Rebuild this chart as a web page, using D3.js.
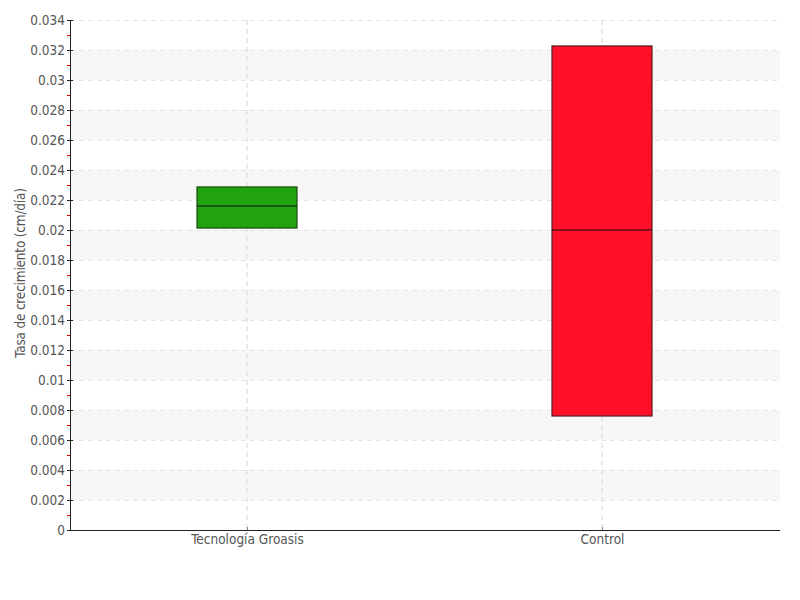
<!DOCTYPE html>
<html><head><meta charset="utf-8">
<script src="https://cdn.jsdelivr.net/npm/d3@7"></script>
<style>
body{margin:0;background:#fff;}
text{font-family:"DejaVu Sans Condensed","Liberation Sans Narrow",sans-serif;fill:#555;}
</style></head>
<body><svg id="c" width="800" height="600"></svg>
<script>
const categories = ["Tecnología Groasis", "Control"];
const q1 = [0.02013, 0.0076];
const median = [0.0216, 0.0200];
const q3 = [0.02287, 0.03227];
const fills = ["#21a30f", "#ff0f28"];
const strokes = ["#1d4a14", "#5a1a1f"];
const yTicks = d3.range(0, 18).map(i => +(i * 0.002).toFixed(3));

const svg = d3.select("#c");
const m = {l: 70, r: 20, t: 20, b: 70};
const W = 800, H = 600;
const x = d3.scaleBand().domain(categories).range([m.l, W - m.r]);
const y = d3.scaleLinear().domain([0, 0.034]).range([H - m.b, m.t]);

// bands
const g = svg.append("g");
for (let i = 1; i < yTicks.length - 1; i += 2) {
  g.append("rect").attr("x", m.l).attr("width", W - m.r - m.l)
   .attr("y", y(yTicks[i + 1])).attr("height", y(yTicks[i]) - y(yTicks[i + 1]))
   .attr("fill", "#f7f7f7");
}
// horizontal grid
g.selectAll("line.h").data(yTicks.filter(d => d > 0)).join("line")
 .attr("x1", m.l).attr("x2", W - m.r)
 .attr("y1", d => y(d) + 0.5).attr("y2", d => y(d) + 0.5)
 .attr("stroke", "#e4e4e4").attr("stroke-dasharray", "5,4");
// vertical grid
g.selectAll("line.v").data(categories).join("line")
 .attr("x1", d => x(d) + x.bandwidth() / 2 - 0.5).attr("x2", d => x(d) + x.bandwidth() / 2 - 0.5)
 .attr("y1", m.t).attr("y2", H - m.b)
 .attr("stroke", "#e4e4e4").attr("stroke-dasharray", "5,4").attr("stroke-width", 1.5);

// boxes
const bw = 100;
categories.forEach((c, i) => {
  const cx = x(c) + x.bandwidth() / 2 - 0.5;
  svg.append("rect").attr("x", cx - bw / 2).attr("width", bw)
   .attr("y", y(q3[i])).attr("height", y(q1[i]) - y(q3[i]))
   .attr("fill", fills[i]).attr("stroke", strokes[i]).attr("stroke-width", 1.2);
  svg.append("line").attr("x1", cx - bw / 2).attr("x2", cx + bw / 2)
   .attr("y1", y(median[i])).attr("y2", y(median[i]))
   .attr("stroke", "#111").attr("stroke-width", 1);
});

// y axis minor ticks
svg.append("g").selectAll("line").data(d3.range(0, 17).map(i => (i + 0.5) * 0.002))
 .join("line").attr("x1", m.l - 3).attr("x2", m.l).attr("y1", d => y(d) + 0.5).attr("y2", d => y(d) + 0.5)
 .attr("stroke", "#e00000");
// y axis
const ya = svg.append("g").attr("transform", `translate(${m.l},0)`)
 .call(d3.axisLeft(y).tickValues(yTicks).tickSize(4).tickFormat(d => d === 0 ? "0" : String(+d.toFixed(3))));
ya.select(".domain").attr("stroke", "#222").attr("d", `M0.5,${m.t}V${H - m.b}`);
ya.selectAll(".tick line").attr("stroke", "#222").attr("x2", 3).attr("x1", -3);
ya.selectAll(".tick text").attr("x", -5).attr("font-size", 13.5).attr("fill", "#555");
// x axis
const xa = svg.append("g").attr("transform", `translate(0,${H - m.b})`)
 .call(d3.axisBottom(x).tickSize(0));
xa.select(".domain").attr("stroke", "#222").attr("d", `M${m.l},0.5H${W - m.r}`);
xa.selectAll(".tick line").attr("y2", -3).attr("stroke", "#888");
xa.selectAll(".tick text").attr("dy", "0.85em").attr("y", 3).attr("font-size", 13.5).attr("fill", "#555");
// y title
svg.append("text").attr("transform", `translate(25,${(m.t + H - m.b) / 2 - 2}) rotate(-90)`)
 .attr("text-anchor", "middle").attr("font-size", 13.5).attr("letter-spacing", -0.2).text("Tasa de crecimiento (cm/día)");
</script></body></html>
